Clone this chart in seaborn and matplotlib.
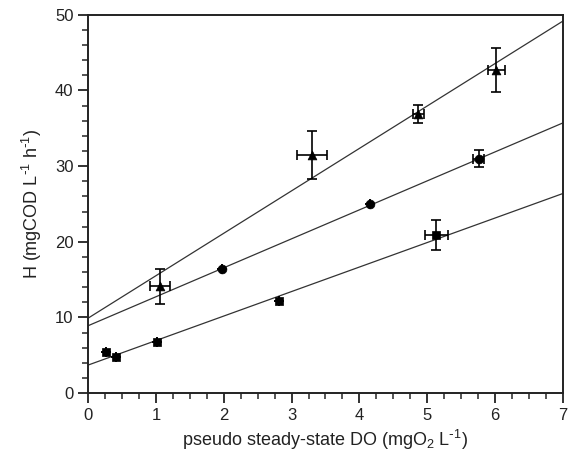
import matplotlib
matplotlib.use("Agg")
import matplotlib.pyplot as plt
import seaborn as sns
import numpy as np
import pandas as pd
from matplotlib.ticker import MultipleLocator

# ---- data ----
tri_x = [1.06, 3.30, 4.87, 6.02]
tri_y = [14.1, 31.5, 36.9, 42.7]
tri_xerr = [0.15, 0.22, 0.08, 0.13]
tri_yerr = [2.3, 3.2, 1.2, 2.9]

cir_x = [1.97, 4.16, 5.76]
cir_y = [16.4, 25.0, 31.0]
cir_xerr = [0.0, 0.0, 0.08]
cir_yerr = [0.0, 0.0, 1.1]

sq_x = [0.26, 0.41, 1.01, 2.82, 5.13]
sq_y = [5.4, 4.8, 6.8, 12.2, 20.9]
sq_xerr = [0.0, 0.0, 0.0, 0.0, 0.17]
sq_yerr = [0.0, 0.0, 0.0, 0.0, 2.0]

# fitted lines (intercept, slope)
line_intercepts = [9.9, 8.9, 3.7]
line_slopes = [5.61, 3.83, 3.24]

x_ticks = [0, 1, 2, 3, 4, 5, 6, 7]
y_ticks = [0, 10, 20, 30, 40, 50]

sns.set_style("ticks")
plt.rcParams['font.family'] = ['Liberation Sans', 'DejaVu Sans']
plt.rcParams['mathtext.default'] = 'regular'

fig = plt.figure(figsize=(5.68, 4.63), dpi=100)
ax = fig.add_axes([0.155, 0.151, 0.836, 0.817])

# lines
xl = np.array([0.0, 7.0])
for b, m in zip(line_intercepts, line_slopes):
    sns.lineplot(x=xl, y=b + m * xl, ax=ax, color='#333333', lw=0.9, legend=False)

series = [
    (tri_x, tri_y, tri_xerr, tri_yerr, '^'),
    (cir_x, cir_y, cir_xerr, cir_yerr, 'o'),
    (sq_x, sq_y, sq_xerr, sq_yerr, 's'),
]
for xs, ys, xe, ye, mk in series:
    df = pd.DataFrame({'x': xs, 'y': ys})
    ax.errorbar(xs, ys, xerr=xe, yerr=ye, fmt='none', ecolor='black',
                elinewidth=1.2, capsize=3.5, capthick=1.2, zorder=3)
    sns.scatterplot(data=df, x='x', y='y', marker=mk, s=40, color='black',
                    edgecolor='black', ax=ax, zorder=4, legend=False)

ax.set_xlim(0, 7)
ax.set_ylim(0, 50)
ax.set_xticks(x_ticks)
ax.set_yticks(y_ticks)
ax.xaxis.set_minor_locator(MultipleLocator(0.25))
ax.yaxis.set_minor_locator(MultipleLocator(2))
ax.tick_params(which='major', direction='out', length=7, width=1.3,
               labelsize=12, colors='#222222')
ax.tick_params(which='minor', direction='out', length=4, width=1.1)
for s in ax.spines.values():
    s.set_linewidth(1.4)
    s.set_color('#222222')
    s.set_visible(True)

ax.set_xlabel(r'pseudo steady-state DO (mgO$_2$ L$^{\text{-}1}$)', fontsize=13,
              color='#222222', labelpad=4)
ax.set_ylabel(r'H (mgCOD L$^{\text{-}1}$ h$^{\text{-}1}$)', fontsize=13,
              color='#222222', labelpad=8)

fig.savefig('out.png', dpi=100)
